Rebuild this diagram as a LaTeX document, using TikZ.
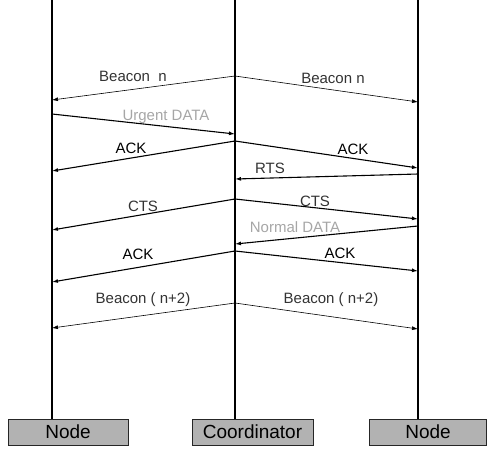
\documentclass[tikz,border=0pt]{standalone}
\usepackage{fontspec}
\setmainfont{Liberation Sans}
\usetikzlibrary{arrows.meta}

\begin{document}
\begin{tikzpicture}[x=1pt,y=-1pt,
    life/.style={black,line width=1.7pt},
    msg/.style={black,line width=1.1pt,-{Latex[length=6pt,width=4pt]}},
    beacon/.style={black,line width=0.6pt,-{Latex[length=6pt,width=4pt]}},
    lbl/.style={inner sep=0pt,font=\fontsize{15}{17}\selectfont},
    faint/.style={lbl,black!35},
    box/.style={draw=black!85,fill=black!30,line width=0.8pt,minimum height=26pt,
        inner sep=0pt,font=\fontsize{19}{21}\selectfont}]
\useasboundingbox (0,0) rectangle (488,448);
% participants
\node [box,minimum width=120pt] (nodeL) at (68,432) {Node};
\node [box,minimum width=121pt] (coord) at (252.5,432) {Coordinator};
\node [box,minimum width=117pt] (nodeR) at (428,432) {Node};
\coordinate (topL) at (52,0);
\coordinate (topC) at (235,0);
\coordinate (topR) at (418,0);
\coordinate (botL) at (52,419);
\coordinate (botC) at (235,419);
\coordinate (botR) at (418,419);
\draw [life] (topL) -- (botL);
\draw [life] (topC) -- (botC);
\draw [life] (topR) -- (botR);
% end points of the messages
\coordinate (bnC) at (235,76);
\coordinate (bnL) at (52,100);
\coordinate (bnR) at (418,102);
\coordinate (udL) at (52,114);
\coordinate (udC) at (235,134);
\coordinate (akC) at (235,141);
\coordinate (akL) at (52,171);
\coordinate (akR) at (418,168);
\coordinate (rtR) at (418,174);
\coordinate (rtC) at (235,179);
\coordinate (csC) at (235,199);
\coordinate (csL) at (52,230);
\coordinate (csR) at (418,219);
\coordinate (ndR) at (418,226);
\coordinate (ndC) at (235,244);
\coordinate (ak2C) at (235,251);
\coordinate (ak2L) at (52,282);
\coordinate (ak2R) at (418,271);
\coordinate (b2C) at (235,303);
\coordinate (b2L) at (52,328);
\coordinate (b2R) at (418,329);
% messages
\draw [beacon] (bnC) -- (bnL);
\draw [beacon] (bnC) -- (bnR);
\draw [msg] (udL) -- (udC);
\draw [msg] (akC) -- (akL);
\draw [msg] (akC) -- (akR);
\draw [msg] (rtR) -- (rtC);
\draw [msg] (csC) -- (csL);
\draw [msg] (csC) -- (csR);
\draw [msg] (ndR) -- (ndC);
\draw [msg] (ak2C) -- (ak2L);
\draw [msg] (ak2C) -- (ak2R);
\draw [beacon] (b2C) -- (b2L);
\draw [beacon] (b2C) -- (b2R);
% labels
\node [lbl,black!80] (tbnL) at (133,76) {Beacon\ \ n};
\node [lbl,black!80] (tbnR) at (333,78) {Beacon n};
\node [faint] (tud) at (166,117) {Urgent DATA};
\node [lbl] (takL) at (131,148) {ACK};
\node [lbl] (takR) at (353,149) {ACK};
\node [lbl,black!80] (trt) at (270,168) {RTS};
\node [lbl,black!80] (tcsL) at (143,206) {CTS};
\node [lbl,black!80] (tcsR) at (315,201) {CTS};
\node [faint] (tnd) at (295,227) {Normal DATA};
\node [lbl] (tak2L) at (138,254) {ACK};
\node [lbl] (tak2R) at (340,253) {ACK};
\node [lbl,black!80] (tb2L) at (143,300) {Beacon ( n+2)};
\node [lbl,black!80] (tb2R) at (331,300) {Beacon ( n+2)};
\end{tikzpicture}
\end{document}
